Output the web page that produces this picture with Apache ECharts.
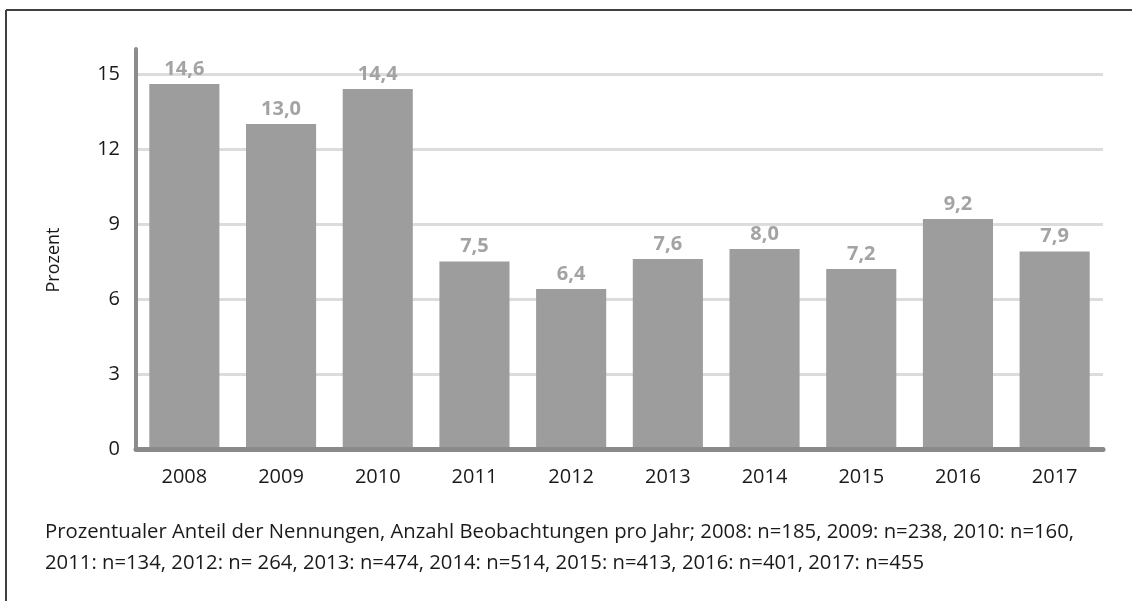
<!DOCTYPE html>
<html>
<head>
<meta charset="utf-8">
<script src="https://cdn.jsdelivr.net/npm/echarts@6/dist/echarts.min.js"></script>
<style>
  html, body { margin: 0; padding: 0; background: #fff; }
  #chart { width: 1132px; height: 601px; }
</style>
</head>
<body>
<div id="chart"></div>
<script>
// Jahre auf der x-Achse
const years = ['2008', '2009', '2010', '2011', '2012', '2013', '2014', '2015', '2016', '2017'];
// Prozentualer Anteil der Nennungen je Jahr
const shares = [14.6, 13.0, 14.4, 7.5, 6.4, 7.6, 8.0, 7.2, 9.2, 7.9];
// Achsenbeschriftung und Fußnote
const yAxisTitle = 'Prozent';
const footnoteLines = [
  'Prozentualer Anteil der Nennungen, Anzahl Beobachtungen pro Jahr; 2008: n=185, 2009: n=238, 2010: n=160,',
  '2011: n=134, 2012: n= 264, 2013: n=474, 2014: n=514, 2015: n=413, 2016: n=401, 2017: n=455'
];

const FONT = '"Open Sans", sans-serif';
const chart = echarts.init(document.getElementById('chart'), null, { renderer: 'canvas' });

chart.setOption({
  animation: false,
  backgroundColor: '#ffffff',
  grid: { left: 136, right: 29, top: 49, bottom: 152, containLabel: false },
  xAxis: {
    type: 'category',
    data: years,
    z: 5,
    axisLine: { show: true, lineStyle: { color: '#8a8a8a', width: 5 } },
    axisTick: { show: false },
    axisLabel: { color: '#1a1a1a', fontFamily: FONT, fontSize: 20, margin: 18 }
  },
  yAxis: {
    type: 'value',
    min: 0,
    max: 16,
    interval: 3,
    axisLine: { show: true, lineStyle: { color: '#8c8c8c', width: 4 } },
    axisTick: { show: false },
    axisLabel: { color: '#1a1a1a', fontFamily: FONT, fontSize: 20, margin: 16, showMaxLabel: false },
    splitLine: { show: true, showMinLine: false, showMaxLine: false, lineStyle: { color: '#dcdcdc', width: 3 } }
  },
  series: [{
    type: 'bar',
    data: shares,
    barCategoryGap: '27.5%',
    itemStyle: { color: '#9d9d9d' },
    label: {
      show: true,
      position: 'top',
      distance: 5,
      color: '#a3a3a3',
      fontFamily: FONT,
      fontWeight: 'bold',
      fontSize: 20,
      formatter: p => p.value.toFixed(1).replace('.', ',')
    }
  }],
  graphic: [
    // Rahmen oben und links
    { type: 'line', shape: { x1: 6, y1: 10, x2: 1140, y2: 10 }, style: { stroke: '#404040', lineWidth: 2 }, z: 10 },
    { type: 'line', shape: { x1: 6, y1: 10, x2: 6, y2: 610 }, style: { stroke: '#404040', lineWidth: 2 }, z: 10 },
    // Titel der y-Achse
    {
      type: 'text', x: 54, y: 260, rotation: Math.PI / 2,
      style: { text: yAxisTitle, font: '18px ' + FONT, fill: '#1a1a1a', align: 'center', verticalAlign: 'middle' }
    },
    // Fußnote
    {
      type: 'text', left: 45, top: 517,
      style: { text: footnoteLines.join('\n'), font: '20.3px ' + FONT, lineHeight: 31, fill: '#1a1a1a' }
    }
  ]
});
</script>
</body>
</html>
